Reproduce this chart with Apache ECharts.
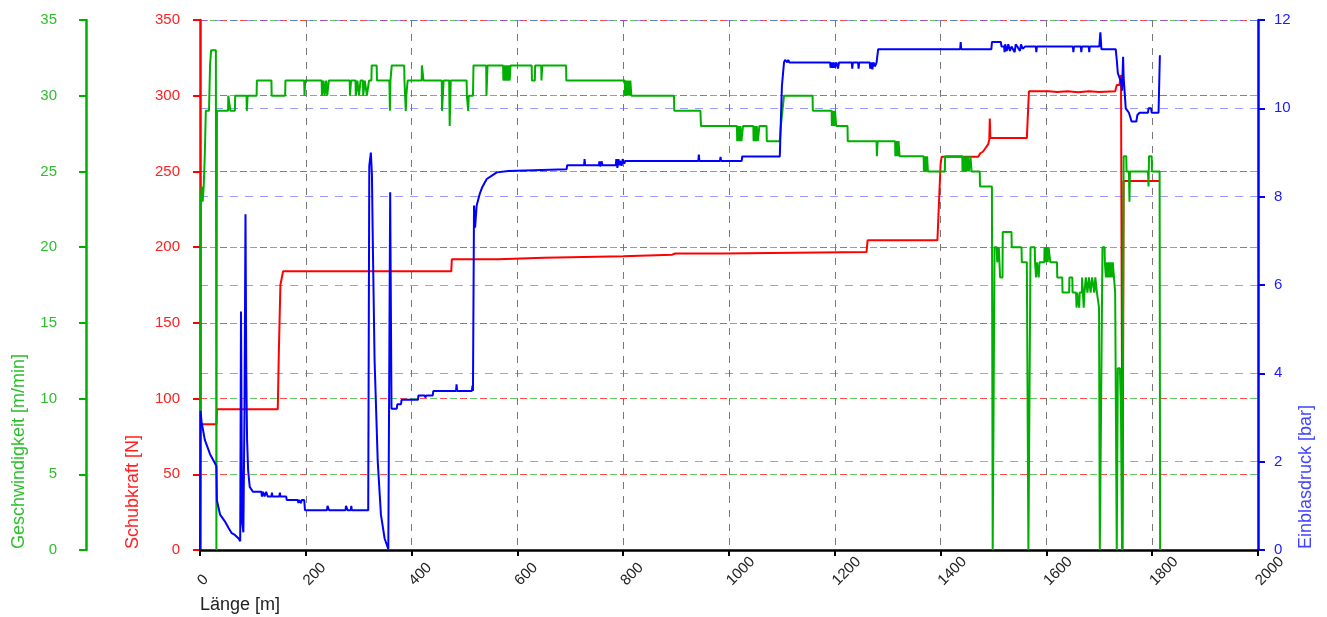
<!DOCTYPE html>
<html>
<head>
<meta charset="utf-8">
<script src="https://cdn.jsdelivr.net/npm/echarts@6/dist/echarts.min.js"></script>
<style>
  html, body { margin: 0; padding: 0; background: #fff; }
  #chart { width: 1327px; height: 617px; }
</style>
</head>
<body>
<div id="chart"></div>
<script>
// Achsenteilung
const laengeTicks = [0, 200, 400, 600, 800, 1000, 1200, 1400, 1600, 1800, 2000];

// Schubkraft [N] über Länge [m]
const schubkraft = [
  [0,83],[31,83],[32,93],[147,93],[149,130],[152,175],[157,184],[475,184],[476,192],[564,192],[565,192.5],[566,193],
  [650,193],[651,193.6],[652,194],[800,194],[801,194.5],[802,195],[893,195],[894,195.8],[896,195.3],[898,195.8],
  [988,195.8],[990,196.8],[1260,196.8],[1262,204.5],[1394,204.5],[1397,230],[1400,255],[1402,259.7],[1471,259.7],
  [1475,262],[1480,263],[1484,265],[1487,265],[1490,268],[1492,271],[1493,285],[1494,272],[1563,272],[1567,302.9],
  [1580,302.9],[1582,302],[1584,302.9],[1600,302.9],[1602,302],[1605,302.9],[1620,302.5],[1640,302.9],[1660,302.3],
  [1680,302.9],[1700,302.5],[1730,302.9],[1733,307],[1738,307],[1741,313.7],[1743,313.7],[1744,0],[1745.5,0],
  [1746,243.7],[1760,243.7],[1762,242.5],[1764,243.7],[1814,243.7]
];

// Geschwindigkeit [m/min] über Länge [m]
const geschwindigkeit = [
  [0,0],[1.5,23],[3,24],[5,23],[7,24],[9,26],[11,29],[17,29],[19,32],[21,33],[30,33],[31,0],[32,29],
  [53,29],[53.5,30],[57,30],[57.5,29],[66,29],[66.5,30],[88,30],[88.5,29],[89.5,29],[90,30],[107,30],[107.5,31],
  [135,31],[135.5,30],[161,30],[161.5,31],[197,31],[197.5,30],[198.5,30],[199,31],[230,31],[230.5,30],[233,30],
  [233.5,31],[235,31],[235.5,30],[238,30],[238.5,31],[240,31],[240.5,30],[243,30],[243.5,31],
  [283,31],[283.5,30],[285,30],[285.5,31],[294,31],[294.5,30],[297,30],[297.5,31],[300,31],[300.5,30],[303,30],
  [303.5,31],[308,31],[308.5,30],[311,30],[311.5,31],[315,31],[315.5,30],[319,30],[319.5,31],
  [324,31],[324.5,32],[334,32],[334.5,31],[358,31],[359,29],[360,31],[362,31],[362.5,32],[386,32],[386.5,31],
  [388,31],[389,29],[390,30],[392,30],[392.5,31],[419,31],[419.5,32],[422,32],[422.5,31],[457,31],[457.5,29],
  [460,29],[460.5,31],[471,31],[472,28],[473,28],[474,31],
  [504,31],[504.5,30],[506,30],[507,29],[508,30],[516,30],[517,32],[541,32],[541.5,30],[543,30],[543.5,32],
  [573,32],[573.5,31],[575,31],[575.5,32],[577,32],[577.5,31],[579,31],[579.5,32],[581,32],[581.5,31],[583,31],
  [583.5,32],[585,32],[585.5,31],[586.5,31],[587,32],[627,32],[627.5,31],[633,31],[633.5,32],[645,32],[645.5,31],
  [646.5,31],[647,32],[692,32],[692.5,31],[803,31],[803.5,30],[805,30],[805.5,31],[807,31],[807.5,30],[809,30],
  [809.5,31],[811,31],[811.5,30],[813,30],[813.5,31],[815,31],[815.5,30],
  [896,30],[896.5,29],[946,29],[947,28],[1015,28],[1015.5,27],[1017,27],[1017.5,28],[1019,28],[1019.5,27],
  [1021,27],[1021.5,28],[1023,28],[1023.5,27],[1026,27],[1026.5,28],[1046,28],[1046.5,27],[1048,27],[1048.5,28],
  [1050,28],[1050.5,27],[1052,27],[1052.5,28],[1054,28],[1054.5,27],[1057,27],[1057.5,28],[1071,28],[1071.5,27],
  [1096,27],[1098,28],[1104,30],
  [1158,30],[1158.5,29],[1194,29],[1194.5,28],[1196,28],[1196.5,29],[1198,29],[1198.5,28],[1200,28],[1200.5,29],
  [1202,29],[1202.5,28],[1224,28],[1224.5,27],[1279,27],[1279.5,26],[1280.5,26],[1281,27],[1314,27],[1314.5,26],
  [1316,26],[1316.5,27],[1318,27],[1318.5,26],[1320,26],[1320.5,27],[1322,27],[1322.5,26],[1368,26],[1368.5,25],
  [1370,25],[1370.5,26],[1372,26],[1372.5,25],[1374,25],[1374.5,26],[1375.5,26],[1376,25],[1408,25],[1408.5,26],
  [1441,26],[1441.5,25],[1443,25],[1443.5,26],[1445,26],[1445.5,25],[1447,25],[1447.5,26],[1449,26],[1449.5,25],
  [1451,25],[1451.5,26],[1453,26],[1453.5,25],[1456,25],[1456.5,26],[1458,26],[1458.5,25],[1474,25],[1474.5,24],
  [1497,24],[1498.5,0],[1502,20],[1506,20],[1507,19],[1509,19],[1510,20],[1512,20],[1512.5,18],[1517,18],
  [1517.5,21],[1534,21],[1534.5,20],[1553,20],[1553.5,19],[1563,19],[1566,0],[1570,20],[1578,20],[1578.5,19],
  [1580,19],[1580.5,18],[1581.5,18],[1582,19],[1585,19],[1585.5,18],[1586.5,18],[1587,19],[1596,19],[1596.5,20],
  [1598,20],[1598.5,19],[1599.5,19],[1600,20],[1602,20],[1602.5,19],[1603.5,19],[1604,20],[1607,20],[1607.5,19],
  [1620,19],[1620.5,18],[1630,18],[1630.5,17],[1643,17],[1643.5,18],[1649,18],[1649.5,17],[1656,17],[1657,16],
  [1658,17],[1661,17],[1662,16],[1663,17],[1667,17],[1667.5,18],[1670,18],[1670.5,16],[1672,17],[1674,17],
  [1674.5,18],[1677,18],[1677.5,17],[1680,17],[1680.5,18],[1683,18],[1683.5,17],[1686,17],[1686.5,18],[1690,18],
  [1690.5,17],[1692,17],[1692.5,18],[1695,18],[1695.5,17],[1699,17],[1699.5,16],[1701,0],[1706,20],[1710,20],
  [1710.5,19],[1712,19],[1712.5,18],[1713.5,19],[1716,19],[1716.5,18],[1717.5,19],[1720,19],[1720.5,18],
  [1721.5,19],[1724,19],[1724.5,18],[1725.5,19],[1729,19],[1730,17],[1733,0],[1735,12],[1739,12],[1741,9],
  [1743,0],[1746,26],[1751,26],[1751.5,25],[1756,25],[1757,23],[1758,25],[1792,25],[1793,24],[1794,26],
  [1799,26],[1799.5,25],[1814,25],[1815,0]
];

// Einblasdruck [bar] über Länge [m]
const einblasdruck = [
  [0,0],[1,3.15],[3,2.9],[9,2.5],[19,2.17],[28,1.97],[31,1.9],[32,1.12],[38,0.8],[47,0.65],[54,0.5],[60,0.38],
  [66,0.34],[73,0.26],[76,0.2],[77.5,5.4],[79,2],[80,0.6],[82,0.4],[84,3],[86,7.6],[87.5,4],[89,2.5],[91,1.8],
  [94,1.43],[100,1.32],[116,1.32],[117,1.21],[119,1.32],[122,1.21],[125,1.32],[127,1.32],[128,1.21],[135,1.21],
  [136,1.3],[137,1.21],[150,1.21],[151,1.3],[152,1.21],[163,1.21],[164,1.13],[185,1.13],[186,1.06],[187,1.13],
  [190,1.13],[191,1.06],[192,1.13],[197,1.13],[198.5,0.9],[240,0.9],[241,1.0],[243,1.0],[244,0.9],[275,0.9],
  [276,1.0],[278,1.0],[279,0.9],[285,0.9],[286,1.0],[287,0.9],[318,0.9],[320,8.7],[323,9.0],[325,8.5],[327,6.7],
  [330,4.3],[336,2.0],[342,0.8],[349,0.26],[356,0.02],[358,0.02],[359.5,8.1],[362,3.2],[372,3.2],[373,3.3],
  [380,3.3],[381,3.4],[412,3.4],[413,3.5],[425,3.5],[426,3.45],[428,3.5],[440,3.5],[441,3.6],[484,3.6],[485,3.75],
  [486,3.6],[514,3.6],[515,3.72],[516,3.6],[517,3.6],[518,7.8],[520,7.3],[523,7.8],[529,8.07],[533,8.2],[542,8.4],
  [551,8.47],[561,8.55],[583,8.58],[586,8.62],[693,8.62],[694,8.71],[726,8.71],[727,8.85],[728,8.71],[754,8.71],
  [755,8.8],[757,8.68],[759,8.8],[761,8.71],[786,8.71],[787,8.85],[789,8.65],[791,8.85],[793,8.71],[794,8.81],
  [797,8.7],[799,8.85],[802,8.75],[804,8.81],[942,8.81],[943,8.95],[944,8.81],[983,8.81],[984,8.9],[985,8.81],
  [1024,8.81],[1025,8.91],[1096,8.91],[1100,10.5],[1104,11.04],[1106,11.1],[1110,11.04],[1112,11.1],[1114,11.04],
  [1191,11.04],[1192,10.92],[1194,11.04],[1196,10.92],[1198,11.04],[1200,10.92],[1203,11.04],[1206,10.9],
  [1208,11.04],[1232,11.04],[1233,10.9],[1234,11.04],[1244,11.04],[1245,10.9],[1246,11.04],[1266,11.04],
  [1267,10.9],[1269,11.04],[1271,10.88],[1273,11.04],[1276,10.95],[1279,11.04],[1282,11.34],[1437,11.34],
  [1438,11.5],[1439,11.34],[1496,11.34],[1497,11.5],[1514,11.5],[1515,11.4],[1520,11.4],[1521,11.27],[1522,11.45],
  [1525,11.3],[1528,11.45],[1531,11.3],[1534,11.4],[1540,11.27],[1542,11.45],[1545,11.4],[1550,11.3],[1552,11.45],
  [1555,11.35],[1560,11.4],[1580,11.4],[1581,11.27],[1582,11.4],[1650,11.4],[1651,11.27],[1652,11.4],[1665,11.4],
  [1666,11.27],[1667,11.4],[1680,11.4],[1681,11.27],[1682,11.4],[1700,11.4],[1702,11.72],[1704,11.34],[1731,11.34],
  [1733,11.1],[1735,10.8],[1738,10.8],[1741,10.6],[1743,10.4],[1745,11.17],[1746,10.7],[1750,10.0],[1756,9.9],
  [1761,9.7],[1770,9.7],[1772,9.85],[1776,9.9],[1792,9.9],[1793,10.0],[1798,10.0],[1799,9.9],[1812,9.9],[1814.5,11.2]
];

const RED = '#ff0000', GREEN = '#00b000', BLUE = '#0000ff';
const FONT = '"Liberation Sans", Arial, sans-serif';

const chart = echarts.init(document.getElementById('chart'));

function yAchse(opts) {
  return {
    type: 'value',
    position: opts.position,
    offset: opts.offset || 0,
    min: 0,
    max: opts.max,
    interval: opts.interval,
    axisLine: { show: true, onZero: false, lineStyle: { color: opts.line, width: 2.5 } },
    axisTick: { show: true, inside: false, length: 7, lineStyle: { color: opts.line, width: 2 } },
    axisLabel: {
      color: opts.label, fontSize: 15, fontFamily: FONT, margin: opts.margin,
      verticalAlign: 'middle', padding: [0, 0, 9, 0]
    },
    splitLine: {
      show: true,
      lineStyle: { color: opts.grid, width: 1, type: opts.dash, dashOffset: opts.dashOffset || 0 }
    }
  };
}

// vertikaler Achsentitel
function titel(text, x, color) {
  return {
    type: 'text', x: x, y: 549, rotation: Math.PI / 2,
    style: { text: text, fill: color, font: '18px ' + FONT,
      align: 'left', verticalAlign: 'middle', textAlign: 'left', textVerticalAlign: 'middle' }
  };
}

chart.setOption({
  animation: false,
  backgroundColor: '#fff',
  grid: { left: 200, right: 69, top: 20, bottom: 67 },
  xAxis: {
    type: 'value',
    min: laengeTicks[0],
    max: laengeTicks[laengeTicks.length - 1],
    interval: laengeTicks[1] - laengeTicks[0],
    axisLine: { onZero: false, lineStyle: { color: '#000', width: 2.5 } },
    axisTick: { show: true, length: 6, lineStyle: { color: '#000', width: 2 } },
    axisLabel: {
      color: '#222', fontSize: 15, fontFamily: FONT, rotate: 45,
      align: 'left', verticalAlign: 'middle', margin: 33,
      formatter: v => String(v)
    },
    splitLine: { show: true, lineStyle: { color: '#777', width: 1, type: [7, 7] } }
  },
  yAxis: [
    yAchse({ position: 'left', max: 350, interval: 50, line: RED, label: '#ff2020', margin: 20,
             grid: 'rgba(255,0,0,0.7)', dash: [7, 13], dashOffset: 0 }),
    yAchse({ position: 'left', offset: 114, max: 35, interval: 5, line: GREEN, label: '#2cbf2c', margin: 29,
             grid: 'rgba(0,160,0,0.6)', dash: [7, 13], dashOffset: 10 }),
    yAchse({ position: 'right', max: 12, interval: 2, line: BLUE, label: '#1a1aff', margin: 16,
             grid: 'rgba(90,90,255,0.6)', dash: [8, 7] })
  ],
  graphic: [
    { type: 'text', x: 200, y: 605, style: { text: 'Länge [m]', fill: '#222', font: '18px ' + FONT,
      align: 'left', verticalAlign: 'middle', textAlign: 'left', textVerticalAlign: 'middle' } },
    titel('Geschwindigkeit [m/min]', 19, '#2cbf2c'),
    titel('Schubkraft [N]', 133, '#ff2020'),
    titel('Einblasdruck [bar]', 1306, '#4444ff')
  ],
  series: [
    { name: 'Schubkraft', type: 'line', yAxisIndex: 0, data: schubkraft, showSymbol: false,
      lineStyle: { color: RED, width: 2 }, itemStyle: { color: RED } },
    { name: 'Geschwindigkeit', type: 'line', yAxisIndex: 1, data: geschwindigkeit, showSymbol: false,
      lineStyle: { color: GREEN, width: 2 }, itemStyle: { color: GREEN } },
    { name: 'Einblasdruck', type: 'line', yAxisIndex: 2, data: einblasdruck, showSymbol: false,
      lineStyle: { color: BLUE, width: 2 }, itemStyle: { color: BLUE } }
  ]
});

window.addEventListener('resize', () => {
  chart.resize();
});
</script>
</body>
</html>
